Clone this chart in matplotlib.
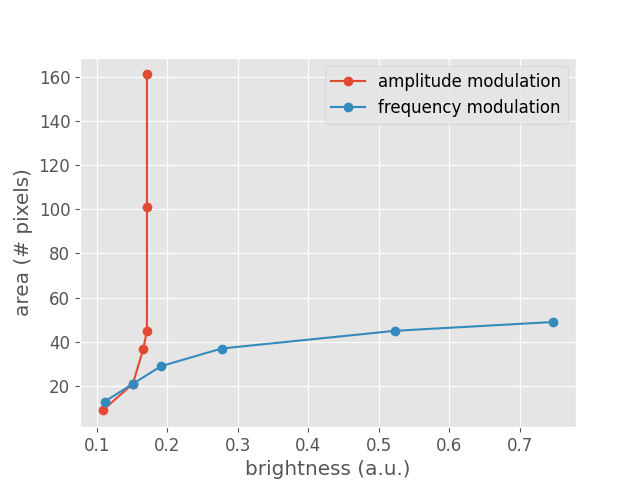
import matplotlib
matplotlib.use("Agg")
import matplotlib.pyplot as plt

plt.style.use("ggplot")
plt.rcParams["font.size"] = 12

am_x = [0.108, 0.151, 0.166, 0.171, 0.171, 0.171]
am_y = [9, 21, 37, 45, 101, 161]
fm_x = [0.111, 0.151, 0.191, 0.277, 0.523, 0.748]
fm_y = [13, 21, 29, 37, 45, 49]

fig, ax = plt.subplots(figsize=(6.4, 4.8), dpi=100)
ax.plot(am_x, am_y, marker="o", label="amplitude modulation")
ax.plot(fm_x, fm_y, marker="o", label="frequency modulation")
ax.set_xlabel("brightness (a.u.)")
ax.set_ylabel("area (# pixels)")
ax.legend(loc="upper right")
fig.savefig("out.png")
